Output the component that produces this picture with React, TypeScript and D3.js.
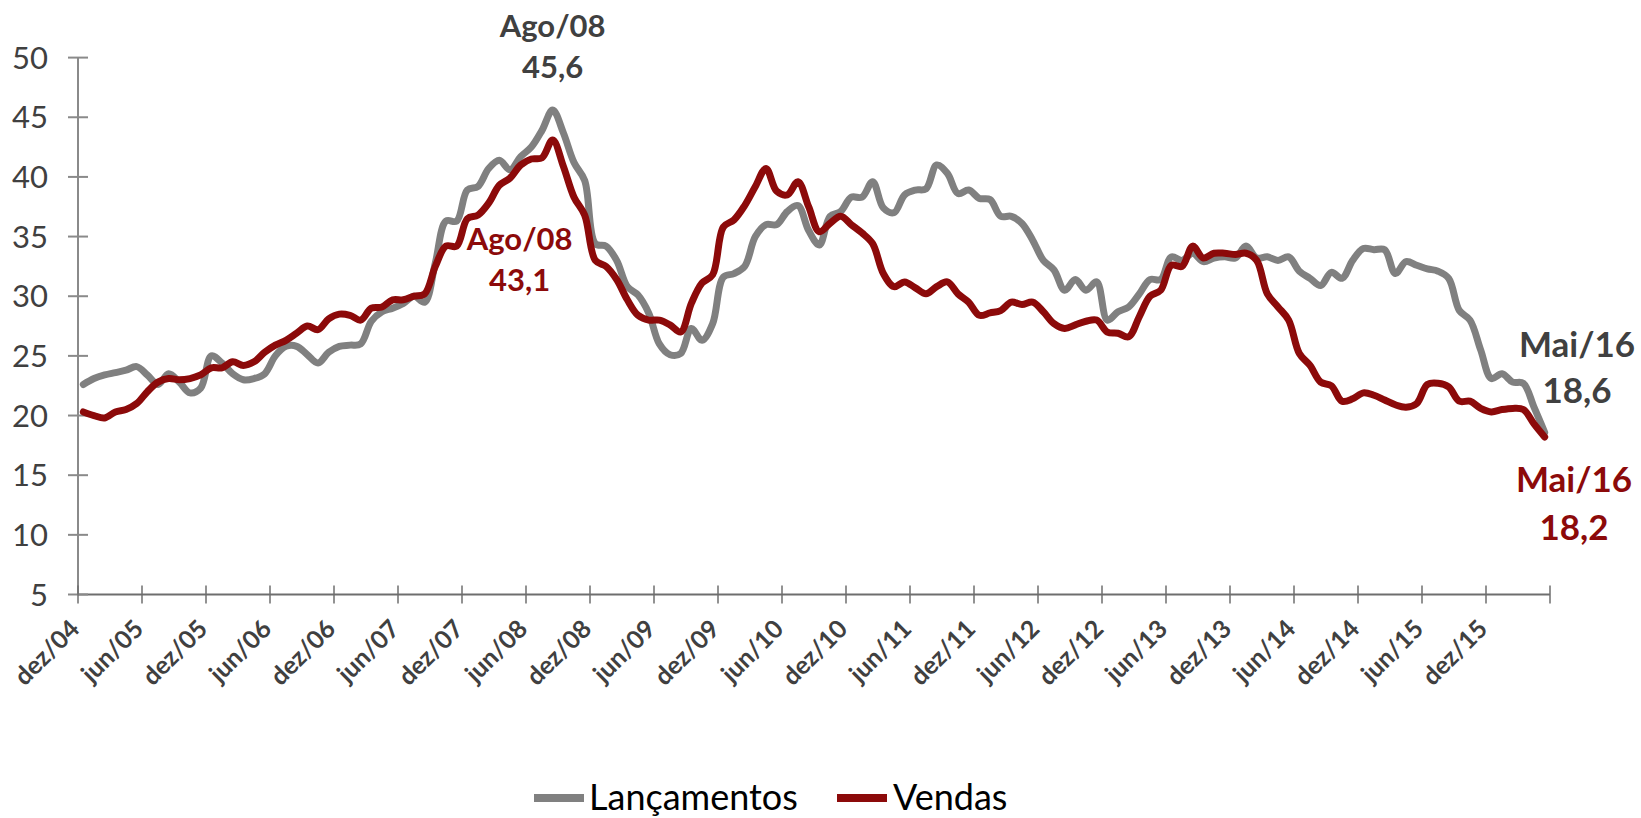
import React from "react";
import * as d3 from "d3";

const lancamentos: number[] = [
  22.6, 23.1, 23.4, 23.6, 23.8, 24.1, 23.4, 22.6, 23.5, 22.8, 21.9, 22.3,
  25.0, 24.4, 23.5, 23.0, 23.1, 23.5, 25.0, 25.8, 25.8, 25.1, 24.4, 25.3,
  25.8, 25.9, 26.0, 27.9, 28.7, 29.0, 29.4, 30.0, 29.5, 32.8, 36.3, 36.3,
  38.9, 39.2, 40.7, 41.4, 40.6, 41.7, 42.5, 43.9, 45.6, 43.7, 41.2, 39.7,
  34.4, 34.2, 33.0, 30.8, 30.1, 28.6, 26.0, 25.1, 25.2, 27.3, 26.3, 27.7,
  31.6, 31.9, 32.5, 35.0, 36.0, 36.0, 37.1, 37.6, 35.5, 34.3, 36.7, 37.1,
  38.3, 38.3, 39.6, 37.4, 37.0, 38.5, 38.9, 39.0, 41.0, 40.3, 38.6, 38.9,
  38.2, 38.1, 36.7, 36.7, 36.1, 34.7, 33.0, 32.2, 30.5, 31.4, 30.5, 31.2,
  28.0, 28.7, 29.1, 30.2, 31.4, 31.4, 33.3, 33.0, 33.6, 32.9, 33.2, 33.3,
  33.2, 34.2, 33.2, 33.3, 33.0, 33.3, 32.1, 31.5, 30.9, 32.0, 31.5, 33.0,
  34.0, 33.9, 33.9, 31.9, 32.9, 32.6, 32.3, 32.1, 31.5, 28.8, 28.0, 25.5,
  23.1, 23.5, 22.8, 22.7, 20.7, 18.6,
];

const vendas: number[] = [
  20.3, 20.0, 19.8, 20.3, 20.5, 21.0, 22.0, 22.8, 23.1, 23.0, 23.1, 23.4,
  24.0, 24.0, 24.5, 24.2, 24.5, 25.3, 25.9, 26.3, 26.9, 27.5, 27.2, 28.1,
  28.5, 28.4, 28.0, 29.0, 29.1, 29.7, 29.7, 30.0, 30.2, 32.5, 34.2, 34.2,
  36.5, 36.8, 37.8, 39.3, 39.9, 41.0, 41.5, 41.6, 43.1, 40.9, 38.3, 36.8,
  33.0, 32.5, 31.4, 29.7, 28.4, 28.0, 28.0, 27.6, 27.0, 29.4, 31.1, 31.8,
  35.8, 36.4, 37.6, 39.2, 40.7, 38.8, 38.5, 39.6, 37.5, 35.4, 36.1, 36.7,
  36.0, 35.3, 34.4, 31.9, 30.8, 31.2, 30.7, 30.2, 30.8, 31.2, 30.2, 29.5,
  28.4, 28.6, 28.8, 29.5, 29.3, 29.5, 28.7, 27.7, 27.3, 27.6, 27.9, 28.0,
  27.0, 26.9, 26.6, 28.3, 30.0, 30.5, 32.6, 32.5, 34.2, 33.2, 33.6, 33.6,
  33.5, 33.6, 33.0, 30.2, 29.1, 28.0, 25.2, 24.2, 22.8, 22.5, 21.2, 21.4,
  21.9, 21.7, 21.3, 20.9, 20.7, 21.0, 22.6, 22.7, 22.4, 21.2, 21.2, 20.6,
  20.3, 20.5, 20.6, 20.5, 19.3, 18.2,
];

const monthNames = ["jan", "fev", "mar", "abr", "mai", "jun", "jul", "ago", "set", "out", "nov", "dez"];
// categories: dez/04 .. mai/16 (138 months)
const categories: string[] = lancamentos.map((_, i) => {
  const m = (11 + i) % 12;
  const yr = 4 + Math.floor((11 + i) / 12);
  return `${monthNames[m]}/${String(yr).padStart(2, "0")}`;
});

const xTickLabels: string[] = [
  "dez/04", "jun/05", "dez/05", "jun/06", "dez/06", "jun/07", "dez/07", "jun/08",
  "dez/08", "jun/09", "dez/09", "jun/10", "dez/10", "jun/11", "dez/11", "jun/12",
  "dez/12", "jun/13", "dez/13", "jun/14", "dez/14", "jun/15", "dez/15",
];

const yTicks: number[] = [5, 10, 15, 20, 25, 30, 35, 40, 45, 50];

const seriesNames = ["Lançamentos", "Vendas"];
const GRAY = "#808080";
const RED = "#8c0a0a";
const TEXT = "#404040";

export default function App() {
  const W = 1641;
  const H = 818;
  const left = 78;
  const right = 1550;
  const top = 57.6;
  const bottom = 594.5;

  const x = d3.scaleBand<string>().domain(categories).range([left, right]).padding(0);
  const bw = x.bandwidth();
  const cx = (i: number) => (x(categories[i]) as number) + bw / 2;
  const y = d3.scaleLinear().domain([5, 50]).range([bottom, top]);

  const line = d3
    .line<number>()
    .x((_, i) => cx(i))
    .y((d) => y(d))
    .curve(d3.curveCatmullRom.alpha(0.5));

  const tickXs = d3.range(0, categories.length + 1, 6).map((k) => left + k * bw);

  const font = "Lato, 'Open Sans', sans-serif";
  const iPeak = 44;
  const iLast = categories.length - 1;

  return (
    <svg
      width={W}
      height={H}
      style={{ position: "absolute", left: 0, top: 0, background: "#fff" }}
      fontFamily={font}
    >
      {/* axes */}
      <line x1={left} x2={left} y1={top} y2={bottom} stroke="#8a8a8a" strokeWidth={2} />
      <line x1={left} x2={right} y1={bottom} y2={bottom} stroke="#6e6e6e" strokeWidth={2} />
      {yTicks.map((t) => (
        <g key={t}>
          <line x1={left - 10} x2={left + 10} y1={y(t)} y2={y(t)} stroke="#8a8a8a" strokeWidth={2} />
          <text
            x={48}
            y={y(t)}
            dy="0.36em"
            textAnchor="end"
            fontSize={31}
            fill={TEXT}
          >
            {t}
          </text>
        </g>
      ))}
      {tickXs.map((tx, k) => (
        <line key={k} x1={tx} x2={tx} y1={bottom - 9} y2={bottom + 9} stroke="#6e6e6e" strokeWidth={1.5} />
      ))}
      {xTickLabels.map((lab, k) => (
        <text
          key={lab}
          transform={`translate(${tickXs[k] + 3},${bottom + 36}) rotate(-45)`}
          textAnchor="end"
          fontSize={25}
          fontWeight="bold"
          fill={TEXT}
        >
          {lab}
        </text>
      ))}

      {/* lines */}
      <path d={line(lancamentos) || ""} fill="none" stroke={GRAY} strokeWidth={7} strokeLinejoin="round" strokeLinecap="round" />
      <path d={line(vendas) || ""} fill="none" stroke={RED} strokeWidth={7} strokeLinejoin="round" strokeLinecap="round" />

      {/* annotations */}
      <g fontWeight="bold" textAnchor="middle" fontSize={31}>
        <text x={cx(iPeak)} y={37} fill={TEXT}>{categories[iPeak].replace("ago", "Ago")}</text>
        <text x={cx(iPeak)} y={78} fill={TEXT}>{lancamentos[iPeak].toFixed(1).replace(".", ",")}</text>
        <text x={cx(iPeak) - 33} y={250} fill={RED}>{categories[iPeak].replace("ago", "Ago")}</text>
        <text x={cx(iPeak) - 33} y={291} fill={RED}>{vendas[iPeak].toFixed(1).replace(".", ",")}</text>
      </g>
      <g fontWeight="bold" textAnchor="middle" fontSize={35}>
        <text x={1577} y={357} fill={TEXT}>{categories[iLast].replace("mai", "Mai")}</text>
        <text x={1577} y={403} fill={TEXT}>{lancamentos[iLast].toFixed(1).replace(".", ",")}</text>
        <text x={1574} y={492} fill={RED}>{categories[iLast].replace("mai", "Mai")}</text>
        <text x={1574} y={540} fill={RED}>{vendas[iLast].toFixed(1).replace(".", ",")}</text>
      </g>

      {/* legend */}
      <line x1={534} x2={584} y1={798} y2={798} stroke={GRAY} strokeWidth={8} />
      <text x={589} y={810} fontSize={36} fill="#000">{seriesNames[0]}</text>
      <line x1={837} x2={887} y1={798} y2={798} stroke={RED} strokeWidth={8} />
      <text x={893} y={810} fontSize={36} fill="#000">{seriesNames[1]}</text>
    </svg>
  );
}
